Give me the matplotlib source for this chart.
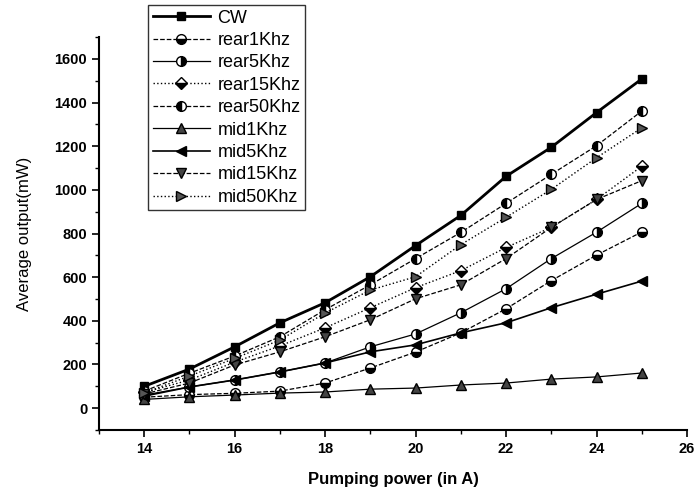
import matplotlib.pyplot as plt
from matplotlib.ticker import MultipleLocator

plt.rcParams["font.family"] = ["Liberation Sans", "DejaVu Sans"]

current = [14, 15, 16, 17, 18, 19, 20, 21, 22, 23, 24, 25]
cw = [100, 179, 281, 391, 483, 602, 745, 883, 1062, 1195, 1354, 1508]
rear1 = [50, 62, 68, 78, 115, 184, 257, 345, 455, 584, 701, 807]
rear5 = [60, 97, 129, 166, 207, 281, 340, 437, 547, 685, 806, 938]
rear15 = [72, 129, 211, 285, 368, 460, 552, 630, 736, 828, 956, 1108]
rear50 = [78, 160, 239, 327, 451, 565, 685, 805, 938, 1071, 1202, 1361]
mid1 = [40, 52, 60, 69, 74, 87, 92, 106, 115, 133, 143, 161]
mid5 = [55, 97, 129, 166, 207, 258, 290, 345, 391, 460, 522, 582]
mid15 = [65, 115, 198, 258, 327, 405, 501, 565, 685, 828, 956, 1042]
mid50 = [70, 147, 228, 312, 436, 541, 602, 749, 874, 1002, 1147, 1284]

names = ["CW", "rear1Khz", "rear5Khz", "rear15Khz", "rear50Khz",
         "mid1Khz", "mid5Khz", "mid15Khz", "mid50Khz"]
series = [cw, rear1, rear5, rear15, rear50, mid1, mid5, mid15, mid50]

styles = [
    dict(marker="s", ls="-", lw=2.0, mfc="black", ms=6),
    dict(marker="o", ls="--", lw=0.9, mfc="black", fillstyle="bottom", ms=7),
    dict(marker="o", ls="-", lw=0.9, mfc="black", fillstyle="right", ms=7),
    dict(marker="D", ls=":", lw=1.0, mfc="black", fillstyle="bottom", ms=6),
    dict(marker="o", ls="--", lw=0.9, mfc="black", fillstyle="left", ms=7),
    dict(marker="^", ls="-", lw=0.9, mfc="#444444", ms=7),
    dict(marker="<", ls="-", lw=1.2, mfc="black", ms=7),
    dict(marker="v", ls="--", lw=0.9, mfc="#444444", ms=7),
    dict(marker=">", ls=":", lw=1.0, mfc="#555555", ms=7),
]

fig = plt.figure(figsize=(7, 4.94), dpi=100)
ax = fig.add_axes([0.1414, 0.1296, 0.84, 0.7954])

for name, vals, st in zip(names, series, styles):
    ax.plot(current, vals, color="black", mec="black", mfcalt="white",
            label=name, **st)

ax.set_xlim(13, 26)
ax.set_ylim(-100, 1700)
ax.xaxis.set_major_locator(MultipleLocator(2))
ax.xaxis.set_minor_locator(MultipleLocator(1))
ax.yaxis.set_major_locator(MultipleLocator(200))
ax.yaxis.set_minor_locator(MultipleLocator(100))
ax.spines["top"].set_visible(False)
ax.spines["right"].set_visible(False)
ax.spines["left"].set_linewidth(1.5)
ax.spines["bottom"].set_linewidth(1.5)
ax.tick_params(which="major", direction="out", length=5, width=1.2, labelsize=10.5)
ax.tick_params(which="minor", direction="out", length=3, width=1.0)
for lab in ax.get_xticklabels() + ax.get_yticklabels():
    lab.set_fontweight("bold")

ax.set_xlabel("Pumping power (in A)", fontsize=12, fontweight="bold", labelpad=12)
ax.set_ylabel("Average output(mW)", fontsize=12, labelpad=16)

fig.legend(loc="upper left", bbox_to_anchor=(148 / 700, 1 - 5 / 494),
           fontsize=13, frameon=True, fancybox=False, edgecolor="black",
           handlelength=3.2, labelspacing=0.3, borderpad=0.25,
           handletextpad=0.4, borderaxespad=0)

fig.savefig("out.png", dpi=100)
